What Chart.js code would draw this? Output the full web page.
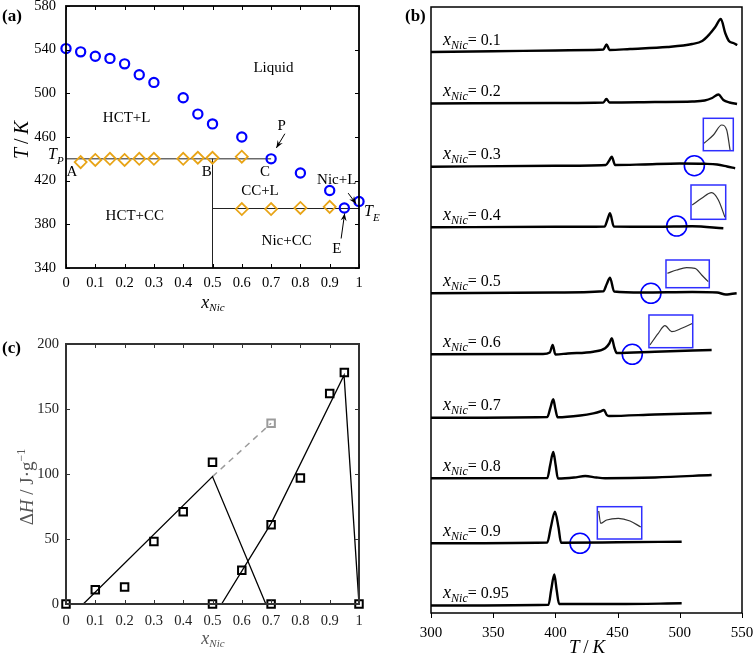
<!DOCTYPE html>
<html lang="es">
<head>
<meta charset="utf-8">
<title>Diagrama de fases HCT - Nic</title>
<script src="https://cdn.jsdelivr.net/npm/chart.js@4.4.1/dist/chart.umd.min.js"></script>
<style>
  body { margin: 0; background: #fff; }
  #lienzo { position: relative; width: 754px; height: 657px; overflow: hidden; }
  canvas { position: absolute; }
</style>
</head>
<body>
<div id="lienzo">
  <canvas id="graficaFases" width="380" height="318" style="left:0px;top:0px"></canvas>
  <canvas id="graficaEntalpia" width="380" height="339" style="left:0px;top:318px"></canvas>
  <canvas id="graficaDSC" width="374" height="657" style="left:380px;top:0px"></canvas>
</div>
<script>
// ===== (a) DIAGRAMA DE FASES =====
const xLiquidus = [0, 0.05, 0.1, 0.15, 0.2, 0.25, 0.3, 0.4, 0.45, 0.5, 0.6, 0.7, 0.8, 0.9, 0.95, 1];
const tLiquidus = [541, 538, 534, 532, 527, 517, 510, 496, 481, 472, 460, 440, 427, 411, 395, 401];
const xSolidus = [0.05, 0.1, 0.15, 0.2, 0.25, 0.3, 0.4, 0.45, 0.5, 0.6, 0.6, 0.7, 0.8, 0.9];
const tSolidus = [437, 439, 440, 439, 440, 440, 440, 441, 441, 442, 394, 394, 395, 396];
const xPeritectica = [0, 0.7];
const tPeritectica = [440, 440];
const xVertical = [0.5, 0.5];
const tVertical = [440, 340];
const xEutectica = [0.5, 1];
const tEutectica = [394.5, 394.5];
const ticksX = [0, 0.1, 0.2, 0.3, 0.4, 0.5, 0.6, 0.7, 0.8, 0.9, 1];
const ticksTa = [340, 380, 420, 460, 500, 540, 580];

// ===== (b) CURVAS DSC =====
const composiciones = ['0.1', '0.2', '0.3', '0.4', '0.5', '0.6', '0.7', '0.8', '0.9', '0.95'];
const tDSC = [
    [300, 350, 400, 430, 438.5, 441.2, 443.5, 460, 490, 510, 518, 524, 528.5, 533, 536.5, 539.5, 543, 546.2],
    [300, 400, 438.5, 441, 443.5, 480, 510, 520, 526, 531, 535, 540, 546],
    [300, 400, 440.5, 443.3, 445.3, 448, 470, 500, 520, 530, 538, 544.5],
    [300, 400, 439.5, 442, 443.9, 447, 480, 510, 535],
    [300, 400, 438.5, 441.3, 443.9, 447.2, 470, 510, 530, 537, 541, 545.7],
    [300, 390, 395.5, 397.8, 400, 410, 430.5, 440, 443.3, 445.3, 447.5, 449.3, 480, 525.6],
    [300, 393.5, 395.8, 398.3, 399.9, 401.8, 420, 430.5, 436, 439, 441.3, 443, 480, 525.6],
    [300, 393.5, 395.8, 398.3, 400.2, 402, 415, 424, 433, 440, 480, 525.6],
    [300, 393.5, 396.3, 399.6, 402.5, 404.5, 450, 501.5],
    [300, 394.5, 396.6, 399.1, 401, 403, 450, 501.5]
];
const hDSC = [
    [561, 561.8, 562.5, 563, 563.5, 568.5, 563, 564, 566, 569, 572, 579, 586, 594, 580, 572, 570, 568],
    [509.5, 510, 510.5, 514, 510.5, 511, 511.5, 512.5, 515, 518.5, 513, 510.5, 509],
    [446.3, 447.2, 448, 452.5, 456.3, 448, 448.5, 449.5, 449.2, 448.5, 446.5, 444.7],
    [385.7, 386.2, 386.5, 394, 399.7, 386.5, 386.3, 386.8, 384.7],
    [319.7, 320.5, 321.7, 329, 335.3, 321.5, 320.5, 321, 320.5, 318.5, 319, 319.7],
    [258.7, 259, 260.5, 268, 258.5, 259.5, 261.3, 264.7, 269.5, 274.7, 265, 260, 261.3, 263],
    [195.2, 196, 204.5, 213.7, 204.5, 195.7, 197.5, 199.7, 201.5, 203, 198, 197, 198.5, 200],
    [134.7, 135, 148, 161, 148, 134.5, 135.5, 137, 135.5, 134.8, 135.5, 138],
    [69.7, 70.5, 85.5, 101.3, 85.5, 70.3, 70.7, 71.3],
    [7.5, 8.3, 23, 38.5, 23, 9, 9, 9.7]
];
// circulos azules y recuadros ampliados
const circulosT = [511.7, 497.5, 476.8, 461.8, 419.8];
const circulosH = [447.3, 387, 319.7, 258.7, 69.7];
const recuadrosT = [[518.9, 543], [509, 536.9], [488.9, 523.7], [475.2, 510.4], [433.7, 469.4]];
const recuadrosH = [[462.3, 494.7], [393.7, 428], [325.3, 353], [265.3, 298], [74, 106.3]];
const insetT = [
    [519.5, 527, 533.7, 537.7, 540.4],
    [510, 517.6, 525.6, 531, 536.3],
    [490, 497.5, 505.5, 512.2, 517.6, 522.9],
    [476, 482.7, 488.1, 493.5, 501.5, 510.4],
    [434.8, 436.4, 441.2, 450.6, 460, 468.6]
];
const insetH = [
    [469.7, 478, 488, 483, 463],
    [408, 414.7, 420.3, 413, 395.7],
    [339.7, 343, 345.3, 344.7, 338, 331.3],
    [268, 279.7, 287.3, 281.3, 284.7, 289.7],
    [102, 89.7, 93, 94.7, 92, 86]
];
const ticksTb = [300, 350, 400, 450, 500, 550];

// ===== (c) ENTALPIA =====
const xEntalpia = [0, 0.1, 0.2, 0.3, 0.4, 0.5, 0.5, 0.6, 0.7, 0.7, 0.8, 0.9, 0.95, 1];
const hEntalpia = [0, 11, 13, 48, 71, 109, 0, 26, 61, 0, 97, 162, 178, 0];
const xDescartado = [0.7];
const hDescartado = [139];
const xTammann1 = [0.059, 0.5, 0.682];
const hTammann1 = [0, 98, 0];
const xTammann2 = [0.531, 0.7, 0.949, 1];
const hTammann2 = [0, 62, 176, 0];
const xTrazos = [0.5, 0.7];
const hTrazos = [98, 139];
const ticksHc = [0, 50, 100, 150, 200];

const SERIF = '"Liberation Serif", "Times New Roman", serif';

function puntos(xs, ys) {
    return xs.map((v, i) => ({ x: v, y: ys[i] }));
}

// escribe texto por partes (para subindices)
function escribir(ctx, partes, x, y, align) {
    let ancho = 0;
    partes.forEach(p => { ctx.font = p[1]; ancho += ctx.measureText(p[0]).width; });
    let cx = x;
    if (align === 'center') cx = x - ancho / 2;
    if (align === 'right') cx = x - ancho;
    ctx.textAlign = 'left';
    ctx.textBaseline = 'alphabetic';
    partes.forEach(p => {
        ctx.font = p[1];
        ctx.fillText(p[0], cx, y + (p[2] || 0));
        cx += ctx.measureText(p[0]).width;
    });
}

function flecha(ctx, x1, y1, x2, y2) {
    const ang = Math.atan2(y2 - y1, x2 - x1);
    ctx.beginPath();
    ctx.moveTo(x1, y1);
    ctx.lineTo(x2, y2);
    ctx.stroke();
    ctx.beginPath();
    ctx.moveTo(x2, y2);
    ctx.lineTo(x2 - 8 * Math.cos(ang - 0.38), y2 - 8 * Math.sin(ang - 0.38));
    ctx.lineTo(x2 - 5 * Math.cos(ang), y2 - 5 * Math.sin(ang));
    ctx.lineTo(x2 - 8 * Math.cos(ang + 0.38), y2 - 8 * Math.sin(ang + 0.38));
    ctx.closePath();
    ctx.fill();
}

// marco y marcas de los ejes
const marco = {
    id: 'marco',
    afterDatasetsDraw(chart, args, o) {
        const { ctx, chartArea: a, scales: { x, y } } = chart;
        ctx.save();
        ctx.strokeStyle = o.color;
        ctx.lineWidth = o.lineWidth;
        ctx.strokeRect(a.left, a.top, a.right - a.left, a.bottom - a.top);
        ctx.lineWidth = 1;
        ctx.beginPath();
        x.ticks.forEach(t => {
            const px = Math.round(x.getPixelForValue(t.value)) + 0.5;
            if (o.inside) {
                ctx.moveTo(px, a.bottom); ctx.lineTo(px, a.bottom - o.tick);
                ctx.moveTo(px, a.top); ctx.lineTo(px, a.top + o.tick);
            } else {
                ctx.moveTo(px, a.bottom); ctx.lineTo(px, a.bottom + o.tick);
            }
        });
        if (o.inside) {
            y.ticks.forEach(t => {
                const py = Math.round(y.getPixelForValue(t.value)) + 0.5;
                ctx.moveTo(a.left, py); ctx.lineTo(a.left + o.tick, py);
                ctx.moveTo(a.right, py); ctx.lineTo(a.right - o.tick, py);
            });
        }
        ctx.stroke();
        ctx.restore();
    }
};

function ejeX(min, max, ticks, alto, pad, size, color) {
    return {
        type: 'linear', min: min, max: max,
        grid: { display: false, drawTicks: false }, border: { display: false },
        afterBuildTicks: s => { s.ticks = ticks.map(v => ({ value: v })); },
        afterFit: s => { s.height = alto; s.paddingLeft = 0; s.paddingRight = 0; },
        ticks: { padding: pad, color: color, autoSkip: false, maxRotation: 0, font: { family: SERIF, size: size }, callback: v => String(v) }
    };
}
function ejeY(min, max, ticks, ancho, pad, size, color) {
    return {
        type: 'linear', min: min, max: max,
        grid: { display: false, drawTicks: false }, border: { display: false },
        afterBuildTicks: s => { s.ticks = ticks.map(v => ({ value: v })); },
        afterFit: s => { s.width = ancho; s.paddingTop = 0; s.paddingBottom = 0; },
        ticks: { padding: pad, color: color, font: { family: SERIF, size: size }, callback: v => String(v) }
    };
}

const sinAdornos = { legend: { display: false }, tooltip: { enabled: false } };

// ---------- GRAFICA (a) ----------
const textosA = [
    ['Liquid', 0.708, 524.5], ['HCT+L', 0.207, 478], ['CC+L', 0.662, 411.6], ['Nic+L', 0.924, 421.7],
    ['HCT+CC', 0.235, 388.8], ['Nic+CC', 0.753, 365.9], ['A', 0.02, 429.3], ['B', 0.48, 429.3],
    ['C', 0.679, 429.3], ['P', 0.736, 471], ['E', 0.924, 358]
];
const flechasA = [[0.747, 463, 0.718, 450], [0.939, 367, 0.951, 390], [0.963, 408.6, 0.99, 398.8]];

new Chart(document.getElementById('graficaFases'), {
    type: 'scatter',
    data: {
        datasets: [
            { data: puntos(xLiquidus, tLiquidus), pointStyle: 'circle', pointRadius: 4.6, borderWidth: 2.2,
              borderColor: '#0000ff', backgroundColor: 'rgba(0,0,0,0)', clip: false },
            { data: puntos(xSolidus, tSolidus), pointStyle: 'rectRot', pointRadius: 6, borderWidth: 1.8,
              borderColor: '#e8a416', backgroundColor: 'rgba(0,0,0,0)', clip: false },
            { data: puntos(xPeritectica, tPeritectica), showLine: true, pointRadius: 0, borderColor: '#222', borderWidth: 1 },
            { data: puntos(xVertical, tVertical), showLine: true, pointRadius: 0, borderColor: '#222', borderWidth: 1 },
            { data: puntos(xEutectica, tEutectica), showLine: true, pointRadius: 0, borderColor: '#222', borderWidth: 1 }
        ]
    },
    options: {
        responsive: false, animation: false, events: [],
        layout: { autoPadding: false, padding: { left: 0, right: 21, top: 6, bottom: 28 } },
        plugins: Object.assign({ marco: { color: '#000', lineWidth: 1.8, tick: 4, inside: true } }, sinAdornos),
        scales: {
            x: ejeX(0, 1, ticksX, 22, 6, 14.5, '#000'),
            y: ejeY(340, 580, ticksTa, 66, 10, 14.5, '#000')
        }
    },
    plugins: [marco, {
        id: 'anotacionesA',
        afterDraw(chart) {
            const { ctx, scales: { x, y } } = chart;
            ctx.save();
            ctx.fillStyle = '#000';
            ctx.strokeStyle = '#000';
            ctx.lineWidth = 1;
            textosA.forEach(t => escribir(ctx, [[t[0], '15px ' + SERIF]], x.getPixelForValue(t[1]), y.getPixelForValue(t[2]) + 5, 'center'));
            flechasA.forEach(f => flecha(ctx, x.getPixelForValue(f[0]), y.getPixelForValue(f[1]), x.getPixelForValue(f[2]), y.getPixelForValue(f[3])));
            escribir(ctx, [['T', 'italic 16px ' + SERIF], ['P', 'italic 11px ' + SERIF, 5]], 48, 159, 'left');
            escribir(ctx, [['T', 'italic 16px ' + SERIF], ['E', 'italic 11px ' + SERIF, 5]], 364, 216, 'left');
            escribir(ctx, [['x', 'italic 18px ' + SERIF], ['Nic', 'italic 11px ' + SERIF, 3]], 213, 308, 'center');
            escribir(ctx, [['(a)', 'bold 17px ' + SERIF]], 2, 21, 'left');
            ctx.translate(22, 140);
            ctx.rotate(-Math.PI / 2);
            escribir(ctx, [['T', 'italic 20px ' + SERIF], ['\u2009/\u2009', '20px ' + SERIF], ['K', 'italic 20px ' + SERIF]], 0, 6, 'center');
            ctx.restore();
        }
    }]
});

// ---------- GRAFICA (c) ----------
new Chart(document.getElementById('graficaEntalpia'), {
    type: 'scatter',
    data: {
        datasets: [
            { data: puntos(xEntalpia, hEntalpia), pointStyle: 'rect', pointRadius: 5.3, borderWidth: 2,
              borderColor: '#000', backgroundColor: 'rgba(0,0,0,0)', clip: false },
            { data: puntos(xDescartado, hDescartado), pointStyle: 'rect', pointRadius: 5.3, borderWidth: 2,
              borderColor: '#9b9b9b', backgroundColor: 'rgba(0,0,0,0)', clip: false },
            { data: puntos(xTammann1, hTammann1), showLine: true, pointRadius: 0, borderColor: '#000', borderWidth: 1.3 },
            { data: puntos(xTammann2, hTammann2), showLine: true, pointRadius: 0, borderColor: '#000', borderWidth: 1.3 },
            { data: puntos(xTrazos, hTrazos), showLine: true, pointRadius: 0, borderColor: '#9b9b9b', borderWidth: 1.5, borderDash: [6, 5] }
        ]
    },
    options: {
        responsive: false, animation: false, events: [],
        layout: { autoPadding: false, padding: { left: 0, right: 21, top: 26, bottom: 23 } },
        plugins: Object.assign({ marco: { color: '#333', lineWidth: 2, tick: 4, inside: true } }, sinAdornos),
        scales: {
            x: ejeX(0, 1, ticksX, 30, 8, 14.5, '#222'),
            y: ejeY(0, 200, ticksHc, 66, 7, 14.5, '#222')
        }
    },
    plugins: [marco, {
        id: 'anotacionesC',
        afterDraw(chart) {
            const ctx = chart.ctx;
            ctx.save();
            ctx.fillStyle = '#000';
            escribir(ctx, [['(c)', 'bold 17px ' + SERIF]], 2, 35, 'left');
            ctx.fillStyle = '#555';
            escribir(ctx, [['x', 'italic 18px ' + SERIF], ['Nic', 'italic 11px ' + SERIF, 3]], 213, 326, 'center');
            ctx.translate(27, 169);
            ctx.rotate(-Math.PI / 2);
            escribir(ctx, [['\u0394', '19px ' + SERIF], ['H', 'italic 19px ' + SERIF], [' / J\u00b7g', '19px ' + SERIF], ['\u22121', '12px ' + SERIF, -8]], 0, 6, 'center');
            ctx.restore();
        }
    }]
});

// ---------- GRAFICA (b) ----------
const datasetsB = composiciones.map((c, i) => ({
    data: puntos(tDSC[i], hDSC[i]), showLine: true, pointRadius: 0,
    borderColor: '#000', borderWidth: 2.4, cubicInterpolationMode: 'monotone'
}));
insetT.forEach((t, i) => datasetsB.push({
    data: puntos(t, insetH[i]), showLine: true, pointRadius: 0,
    borderColor: '#333', borderWidth: 1.2, cubicInterpolationMode: 'monotone'
}));
datasetsB.push({
    data: puntos(circulosT, circulosH), pointStyle: 'circle', pointRadius: 10, borderWidth: 1.6,
    borderColor: '#0000ff', backgroundColor: 'rgba(0,0,0,0)', clip: false
});

new Chart(document.getElementById('graficaDSC'), {
    type: 'scatter',
    data: { datasets: datasetsB },
    options: {
        responsive: false, animation: false, events: [],
        layout: { autoPadding: false, padding: { left: 51, right: 12, top: 7, bottom: 0 } },
        plugins: Object.assign({ marco: { color: '#000', lineWidth: 1.5, tick: 5, inside: false } }, sinAdornos),
        scales: {
            x: ejeX(300, 550, ticksTb, 44, 11, 15, '#000'),
            y: { type: 'linear', min: 0, max: 606, display: false }
        }
    },
    plugins: [marco, {
        id: 'anotacionesB',
        afterDraw(chart) {
            const { ctx, scales: { x, y } } = chart;
            ctx.save();
            ctx.fillStyle = '#000';
            composiciones.forEach((c, i) => {
                const yb = y.getPixelForValue(hDSC[i][0]) - 7.5;
                escribir(ctx, [['x', 'italic 18px ' + SERIF], ['Nic', 'italic 12px ' + SERIF, 4], ['= ' + c, '16px ' + SERIF]],
                    x.getPixelForValue(309.7), yb, 'left');
            });
            ctx.strokeStyle = '#2f2fff';
            ctx.lineWidth = 1.5;
            recuadrosT.forEach((r, i) => {
                const x1 = x.getPixelForValue(r[0]), x2 = x.getPixelForValue(r[1]);
                const y1 = y.getPixelForValue(recuadrosH[i][1]), y2 = y.getPixelForValue(recuadrosH[i][0]);
                ctx.strokeRect(x1, y1, x2 - x1, y2 - y1);
            });
            escribir(ctx, [['(b)', 'bold 17px ' + SERIF]], 25, 21, 'left');
            escribir(ctx, [['T', 'italic 19px ' + SERIF], ['\u2009/\u2009', '19px ' + SERIF], ['K', 'italic 19px ' + SERIF]], 207, 653, 'center');
            ctx.restore();
        }
    }]
});
</script>
</body>
</html>
